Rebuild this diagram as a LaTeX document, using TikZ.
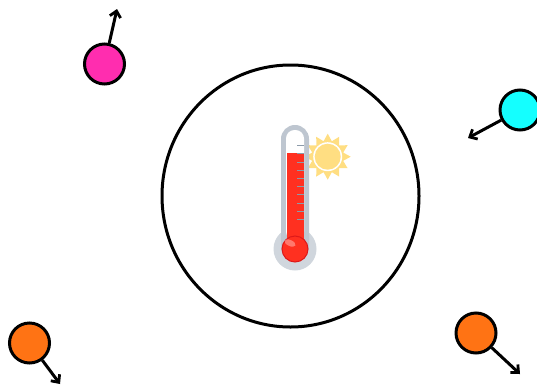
\documentclass[tikz,border=0pt]{standalone}
\usepackage{tikz}
\usetikzlibrary{arrows.meta,calc}
\definecolor{tubegray}{RGB}{190,198,208}
\definecolor{halogray}{RGB}{208,214,221}
\definecolor{tickgray}{RGB}{140,155,170}
\definecolor{sunyellow}{RGB}{255,222,130}
\definecolor{hotred}{RGB}{255,48,32}
\tikzset{
  ball/.style={circle,draw=black,line width=3pt,minimum size=40pt,inner sep=0pt},
  velocity/.style={line width=3pt,-{Straight Barb[length=6pt,width=11pt,line width=2.8pt]}},
}
\begin{document}
\begin{tikzpicture}[x=1pt,y=-1pt]
  \useasboundingbox (0,0) rectangle (537,388);
  % free ends of the arrows
  \coordinate (pinkEnd) at (117,9);
  \coordinate (cyanEnd) at (468,138);
  \coordinate (orangeAEnd) at (60,384);
  \coordinate (orangeBEnd) at (520,374);
  \node[ball,fill={rgb,255:red,255;green,45;blue,175}] (pink) at (104.5,64) {};
  \node[ball,fill={rgb,255:red,20;green,255;blue,255}] (cyanBall) at (520,110) {};
  \node[ball,fill={rgb,255:red,255;green,115;blue,20}] (orangeA) at (29.5,343) {};
  \node[ball,fill={rgb,255:red,255;green,115;blue,20}] (orangeB) at (476,333) {};
  \draw[velocity] (pink) -- (pinkEnd);
  \draw[velocity] (cyanBall) -- (cyanEnd);
  \draw[velocity] (orangeA) -- (orangeAEnd);
  \draw[velocity] (orangeB) -- (orangeBEnd);
  \draw[line width=3pt] (290.5,196) ellipse (128.5 and 131);
  % sun
  \fill[sunyellow] (350.7,156.7)
    \foreach \a in {15,30,...,345} {
      -- ($(327.7,156.7)+(\a:{mod(\a,30)==0 ? 23 : 16})$)
    } -- cycle;
  \fill[white] (327.7,156.7) circle (14.5);
  \fill[sunyellow] (327.7,156.7) circle (13);
  % thermometer
  \fill[halogray] (295,249) circle (21.5);
  \fill[tubegray,rounded corners=13.9pt] (281,260) -- (281,125) -- (309,125) -- (309,260) -- cycle;
  \fill[white,rounded corners=8.5pt] (286,240) -- (286,130) -- (304,130) -- (304,240) -- cycle;
  \fill[hotred] (287.3,152.7) rectangle (304,240);
  \fill[hotred] (295,249) circle (13);
  \draw[red!85!black!90,line width=1pt] (295,249) circle (13);
  \fill[white,opacity=.35,rotate around={-25:(290,243)}] (290,243) ellipse (6 and 3);
  \foreach \i in {0,...,9}
    \draw[tickgray,line width=1pt] (297,145.7+8.2*\i) -- (304,145.7+8.2*\i);
\end{tikzpicture}
\end{document}
